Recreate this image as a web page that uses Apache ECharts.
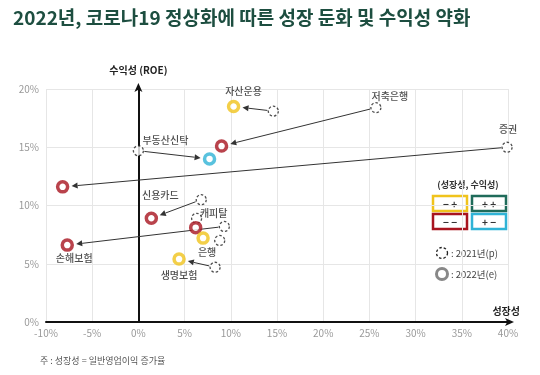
<!DOCTYPE html>
<html>
<head>
<meta charset="utf-8">
<script src="https://cdn.jsdelivr.net/npm/echarts@6/dist/echarts.min.js"></script>
<style>
  html, body { margin: 0; padding: 0; background: #fff; }
  #chart { width: 540px; height: 375px; }
</style>
</head>
<body>
<div id="chart"></div>
<script>
// 업권별 성장성(일반영업이익 증가율)과 수익성(ROE), 단위 %
var sectors = ['자산운용', '저축은행', '증권', '부동산신탁', '신용카드', '캐피탈', '은행', '생명보험', '손해보험'];
var growth2021 = [14.6, 25.7, 39.9, 0.0, 6.8, 6.3, 8.8, 8.3, 9.3];
var roe2021 = [18.1, 18.4, 15.0, 14.7, 10.5, 8.9, 7.0, 4.7, 8.2];
var growth2022 = [10.3, 9.0, -8.2, 7.7, 1.4, 6.2, 7.0, 4.4, -7.7];
var roe2022 = [18.5, 15.1, 11.6, 14.0, 8.9, 8.1, 7.2, 5.4, 6.6];

var FONT = '"Noto Sans CJK KR", "Noto Sans", sans-serif';
var quadColor = {
    '-+': '#f0c31c',
    '++': '#1f6b5a',
    '--': '#a8141f',
    '+-': '#2fb3d6'
};

// 이름표 위치 (점 중심 기준 이동량), 어느 해 점에 붙일지
var labelPlace = {
    '자산운용': { year: 2022, offset: [10, -15] },
    '저축은행': { year: 2021, offset: [14, -11] },
    '증권': { year: 2021, offset: [1, -18] },
    '부동산신탁': { year: 2021, offset: [27, -11] },
    '신용카드': { year: 2022, offset: [9, -23] },
    '캐피탈': { year: 2022, offset: [18, -14] },
    '은행': { year: 2022, offset: [4, 14] },
    '생명보험': { year: 2022, offset: [0, 16] },
    '손해보험': { year: 2022, offset: [7, 13] }
};

function quadOf(i) {
    var g = growth2022[i] >= growth2021[i] ? '+' : '-';
    var r = roe2022[i] >= roe2021[i] ? '+' : '-';
    return g + r;
}

function makeLabel(name, year) {
    var p = labelPlace[name];
    if (p.year !== year) return { show: false };
    return {
        show: true,
        position: 'inside',
        offset: p.offset,
        formatter: name,
        color: '#222',
        fontSize: 10,
        fontWeight: 500,
        fontFamily: FONT
    };
}

var data2021 = sectors.map(function (name, i) {
    return { name: name, value: [growth2021[i], roe2021[i]], label: makeLabel(name, 2021) };
});
var data2022 = sectors.map(function (name, i) {
    return {
        name: name,
        value: [growth2022[i], roe2022[i]],
        itemStyle: { borderColor: quadColor[quadOf(i)] },
        label: makeLabel(name, 2022)
    };
});
var arrowData = sectors.map(function (name, i) {
    return [growth2021[i], roe2021[i], growth2022[i], roe2022[i]];
});

function renderArrow(params, api) {
    var p1 = api.coord([api.value(0), api.value(1)]);
    var p2 = api.coord([api.value(2), api.value(3)]);
    var dx = p2[0] - p1[0], dy = p2[1] - p1[1];
    var len = Math.sqrt(dx * dx + dy * dy);
    if (len < 18) return null;
    var ux = dx / len, uy = dy / len;
    var sx = p1[0] + ux * 6, sy = p1[1] + uy * 6;
    var ex = p2[0] - ux * 9, ey = p2[1] - uy * 9;
    var bx = ex - ux * 6, by = ey - uy * 6;
    return {
        type: 'group',
        children: [{
            type: 'line',
            shape: { x1: sx, y1: sy, x2: bx, y2: by },
            style: { stroke: '#333', lineWidth: 1 }
        }, {
            type: 'polygon',
            shape: { points: [[ex, ey], [bx - uy * 3, by + ux * 3], [bx + uy * 3, by - ux * 3]] },
            style: { fill: '#333' }
        }]
    };
}

function legendBox(x, y, key, text) {
    return {
        type: 'group',
        children: [{
            type: 'rect',
            shape: { x: x, y: y, width: 34, height: 15 },
            style: { fill: '#fff', stroke: quadColor[key], lineWidth: 2.5 }
        }, {
            type: 'text',
            style: {
                x: x + 17, y: y + 8, text: text, align: 'center', verticalAlign: 'middle',
                fontSize: 10, fontWeight: 'bold', fill: '#333', fontFamily: FONT
            }
        }]
    };
}

var myChart = echarts.init(document.getElementById('chart'));
var option = {
    animation: false,
    textStyle: { fontFamily: FONT },
    title: {
        text: '2022년, 코로나19 정상화에 따른 성장 둔화 및 수익성 약화',
        left: 8,
        top: 3,
        textStyle: { fontSize: 19, fontWeight: 'bold', color: '#1d4e40', fontFamily: FONT }
    },
    grid: { left: 46, right: 32, top: 89, bottom: 53 },
    xAxis: {
        type: 'value',
        min: -10,
        max: 40,
        interval: 5,
        name: '성장성',
        nameLocation: 'end',
        nameGap: 12,
        nameTextStyle: {
            align: 'right', verticalAlign: 'bottom', padding: [0, 0, 6, 0],
            fontSize: 10, fontWeight: 'bold', color: '#222'
        },
        axisLine: {
            onZero: true,
            lineStyle: { color: '#111', width: 2 },
            symbol: ['none', 'arrow'],
            symbolSize: [6, 9],
            symbolOffset: [0, 6]
        },
        axisTick: { show: false },
        axisLabel: { formatter: '{value}%', color: '#999', fontSize: 10, margin: 6 },
        splitLine: { lineStyle: { color: '#e6e6e6' } }
    },
    yAxis: {
        type: 'value',
        min: 0,
        max: 20,
        interval: 5,
        name: '수익성 (ROE)',
        nameLocation: 'end',
        nameGap: 14,
        nameTextStyle: { fontSize: 10, fontWeight: 'bold', color: '#222', align: 'center' },
        axisLine: {
            show: true,
            onZero: true,
            lineStyle: { color: '#111', width: 2 },
            symbol: ['none', 'arrow'],
            symbolSize: [6, 9],
            symbolOffset: [0, 6]
        },
        axisTick: { show: false },
        axisLabel: { formatter: '{value}%', color: '#999', fontSize: 10, margin: 7 },
        splitLine: { lineStyle: { color: '#e6e6e6' } }
    },
    series: [{
        name: 'arrows',
        type: 'custom',
        renderItem: renderArrow,
        data: arrowData,
        z: 2,
        silent: true
    }, {
        name: '2021년(p)',
        type: 'scatter',
        data: data2021,
        symbol: 'circle',
        symbolSize: 10,
        itemStyle: { color: '#fff', borderColor: '#222', borderWidth: 1.3, borderType: [2.5, 2] },
        z: 3
    }, {
        name: '2022년(e)',
        type: 'scatter',
        data: data2022,
        symbol: 'circle',
        symbolSize: 10,
        itemStyle: { color: '#fff', borderWidth: 3.5 },
        z: 4
    }],
    graphic: [{
        type: 'text',
        style: {
            x: 468, y: 185, text: '(성장성, 수익성)', align: 'center', verticalAlign: 'middle',
            fontSize: 9, fontWeight: 'bold', fill: '#333', fontFamily: FONT
        }
    },
    legendBox(433, 196, '-+', '− +'),
    legendBox(472, 196, '++', '+ +'),
    legendBox(433, 214, '--', '− −'),
    legendBox(472, 214, '+-', '+ −'),
    {
        type: 'circle',
        shape: { cx: 442, cy: 253, r: 5.5 },
        style: { fill: '#fff', stroke: '#222', lineWidth: 1.3, lineDash: [2.5, 2] }
    }, {
        type: 'text',
        style: { x: 451, y: 253, text: ': 2021년(p)', verticalAlign: 'middle', fontSize: 9.5, fill: '#444', fontFamily: FONT }
    }, {
        type: 'circle',
        shape: { cx: 442, cy: 274, r: 5.5 },
        style: { fill: '#fff', stroke: '#888', lineWidth: 3 }
    }, {
        type: 'text',
        style: { x: 451, y: 274, text: ': 2022년(e)', verticalAlign: 'middle', fontSize: 9.5, fill: '#444', fontFamily: FONT }
    }, {
        type: 'text',
        style: { x: 40, y: 361, text: '주 : 성장성 = 일반영업이익 증가율', verticalAlign: 'middle', fontSize: 9, fill: '#555', fontFamily: FONT }
    }]
};
myChart.setOption(option);
</script>
</body>
</html>
